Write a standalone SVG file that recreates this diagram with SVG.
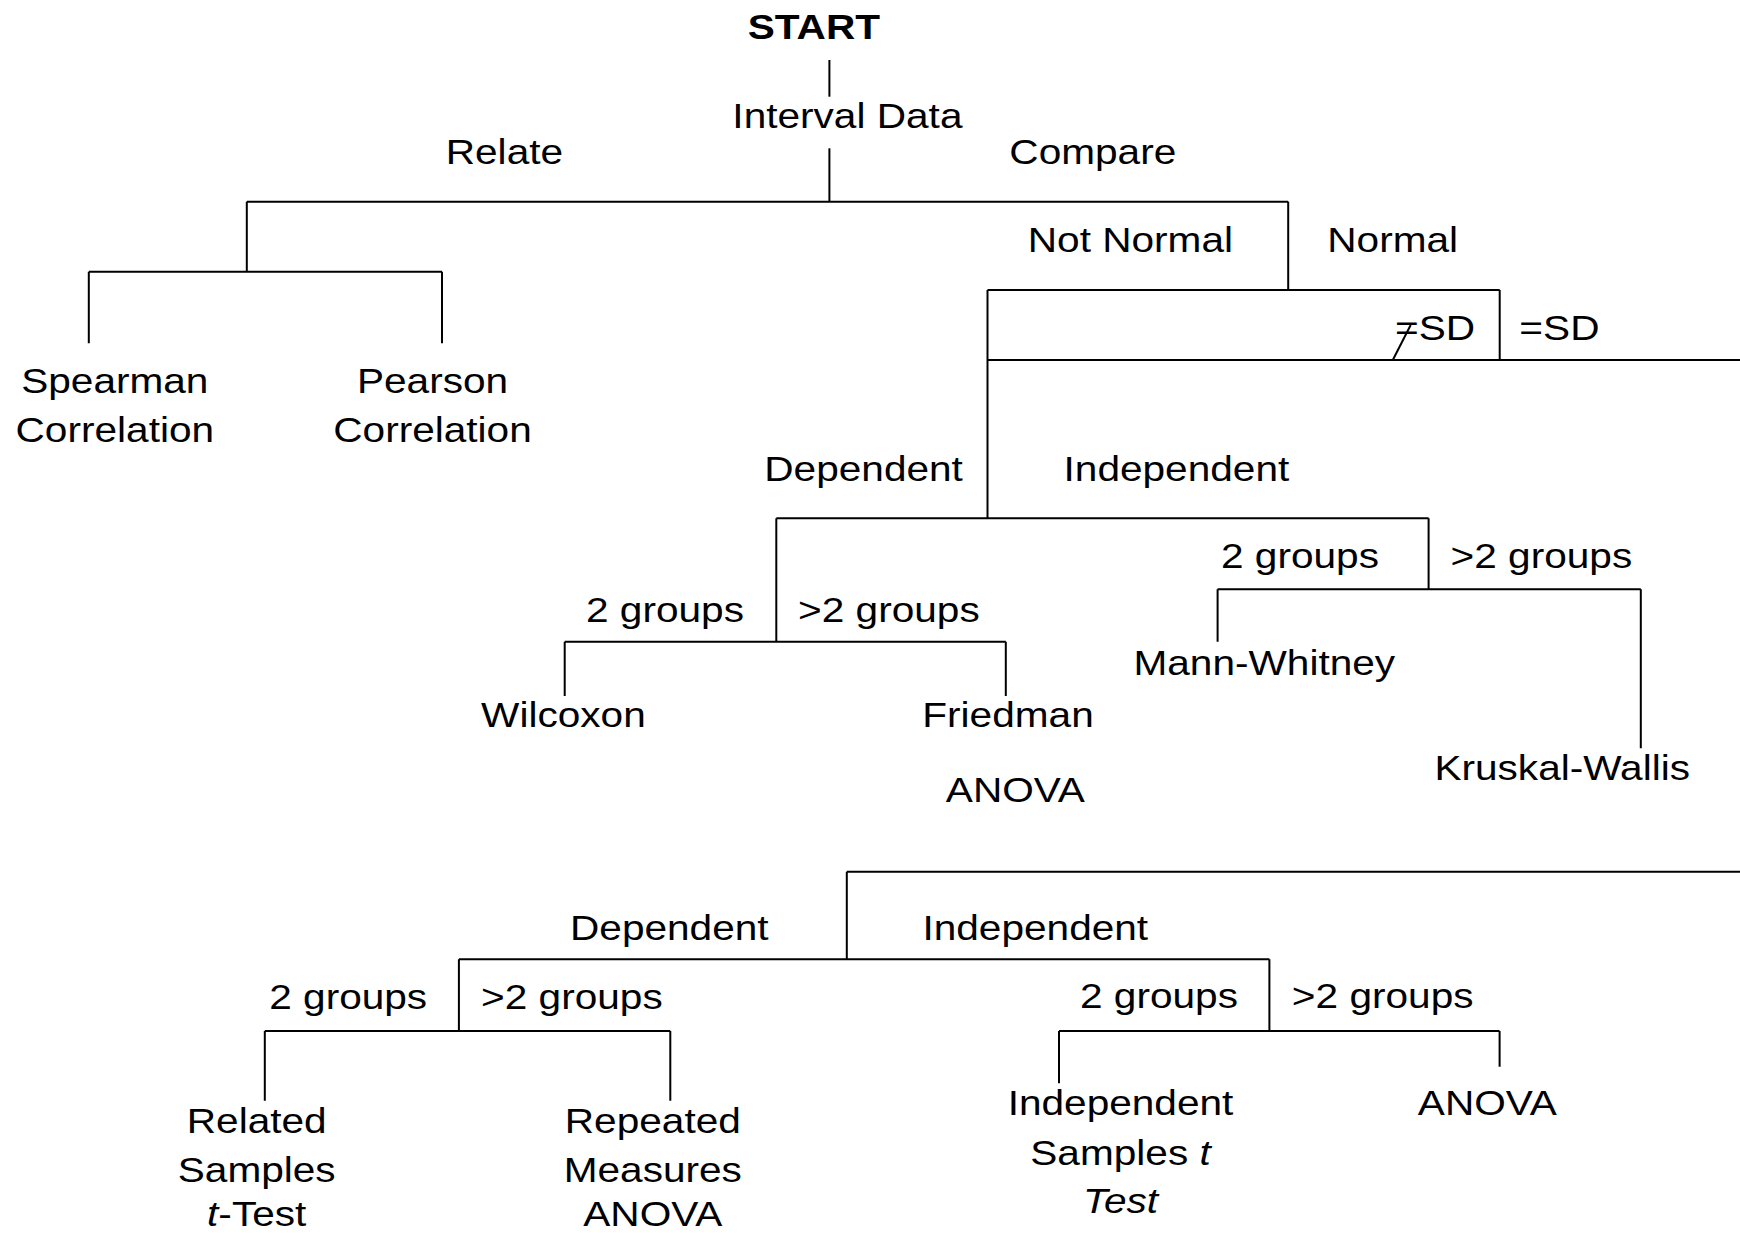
<svg xmlns="http://www.w3.org/2000/svg" width="1740" height="1233" viewBox="0 0 1740 1233">
<style>
.t{font-family:"Liberation Sans",Arial,Helvetica,sans-serif;font-size:35px;fill:#000;text-anchor:middle}
.b{font-weight:bold}
.i{font-style:italic}
.c path{stroke:#000;stroke-width:2;fill:none}
</style>
<rect width="1740" height="1233" fill="#fff"/>
<g class="c" id="connectors">
<path d="M829.4,60 V96.7"/>
<path d="M829.4,148.3 V201.7"/>
<path d="M246.8,201.7 H1288.2"/>
<path d="M246.8,201.7 V271.7"/>
<path d="M88.8,271.7 H442 M88.8,271.7 V343.3 M442,271.7 V343.3"/>
<path d="M1288.2,201.7 V290"/>
<path d="M987.5,290 H1499.7 M1499.7,290 V360"/>
<path d="M987.5,290 V518.3"/>
<path d="M987.5,360 H1740"/>
<path d="M1410.7,325 L1392.8,360"/>
<path d="M776.3,518.3 H1428.6"/>
<path d="M776.3,518.3 V641.7"/>
<path d="M564.7,641.7 H1005.8 M564.7,641.7 V696 M1005.8,641.7 V696"/>
<path d="M1428.6,518.3 V589.3 M1217.6,589.3 H1640.8 M1217.6,589.3 V641.7 M1640.8,589.3 V748.3"/>
<path d="M846.8,871.7 H1740 M846.8,871.7 V959.3"/>
<path d="M458.9,959.3 H1269.4"/>
<path d="M458.9,959.3 V1031 M264.8,1031 H670.3 M264.8,1031 V1100.7 M670.3,1031 V1100.7"/>
<path d="M1269.4,959.3 V1031 M1059,1031 H1499.6 M1059,1031 V1083.3 M1499.6,1031 V1066.7"/>
</g>
<g id="start"><text class="t b" transform="translate(813.9,39.3) scale(1.16 1)">START</text></g>
<g id="interval"><text class="t" transform="translate(847.4,128.3) scale(1.16 1)">Interval Data</text></g>
<g id="relate"><text class="t" transform="translate(504.4,164) scale(1.16 1)">Relate</text></g>
<g id="compare"><text class="t" transform="translate(1092.8,164) scale(1.16 1)">Compare</text></g>
<g id="spearman"><text class="t" transform="translate(114.8,393.3) scale(1.16 1)"><tspan x="0" y="0">Spearman</tspan><tspan x="0" y="48.4">Correlation</tspan></text></g>
<g id="pearson"><text class="t" transform="translate(432.5,393.3) scale(1.16 1)"><tspan x="0" y="0">Pearson</tspan><tspan x="0" y="48.4">Correlation</tspan></text></g>
<g id="notnormal"><text class="t" transform="translate(1130.4,252) scale(1.16 1)">Not Normal</text></g>
<g id="normal"><text class="t" transform="translate(1392.7,252) scale(1.16 1)">Normal</text></g>
<g id="neqsd"><text class="t" transform="translate(1435,340) scale(1.16 1)">=SD</text></g>
<g id="eqsd"><text class="t" transform="translate(1559.4,340) scale(1.16 1)">=SD</text></g>
<g id="dep1"><text class="t" transform="translate(863.6,481) scale(1.16 1)">Dependent</text></g>
<g id="indep1"><text class="t" transform="translate(1176.4,481) scale(1.16 1)">Independent</text></g>
<g id="dep1-2g"><text class="t" transform="translate(665,621.7) scale(1.16 1)">2 groups</text></g>
<g id="dep1-gt2g"><text class="t" transform="translate(888.9,621.7) scale(1.16 1)">&gt;2 groups</text></g>
<g id="wilcoxon"><text class="t" transform="translate(563.4,727.3) scale(1.16 1)">Wilcoxon</text></g>
<g id="friedman"><text class="t" transform="translate(1008,727.3) scale(1.16 1)">Friedman</text></g>
<g id="anova1"><text class="t" transform="translate(1015.4,801.7) scale(1.16 1)">ANOVA</text></g>
<g id="indep1-2g"><text class="t" transform="translate(1300,568.3) scale(1.16 1)">2 groups</text></g>
<g id="indep1-gt2g"><text class="t" transform="translate(1541.4,568.3) scale(1.16 1)">&gt;2 groups</text></g>
<g id="mannwhitney"><text class="t" transform="translate(1264.3,675) scale(1.16 1)">Mann-Whitney</text></g>
<g id="kruskal"><text class="t" transform="translate(1562.2,780) scale(1.16 1)">Kruskal-Wallis</text></g>
<g id="dep2"><text class="t" transform="translate(669.3,940) scale(1.16 1)">Dependent</text></g>
<g id="indep2"><text class="t" transform="translate(1035.3,940) scale(1.16 1)">Independent</text></g>
<g id="dep2-2g"><text class="t" transform="translate(348.2,1009.3) scale(1.16 1)">2 groups</text></g>
<g id="dep2-gt2g"><text class="t" transform="translate(571.9,1009.3) scale(1.16 1)">&gt;2 groups</text></g>
<g id="indep2-2g"><text class="t" transform="translate(1159,1008.3) scale(1.16 1)">2 groups</text></g>
<g id="indep2-gt2g"><text class="t" transform="translate(1382.7,1008.3) scale(1.16 1)">&gt;2 groups</text></g>
<g id="related"><text class="t" transform="translate(256.7,1133.3) scale(1.16 1)"><tspan x="0" y="0">Related</tspan><tspan x="0" y="49">Samples</tspan><tspan x="0" y="92.5"><tspan class="i">t</tspan>-Test</tspan></text></g>
<g id="repeated"><text class="t" transform="translate(652.8,1133.3) scale(1.16 1)"><tspan x="0" y="0">Repeated</tspan><tspan x="0" y="49">Measures</tspan><tspan x="0" y="92.5">ANOVA</tspan></text></g>
<g id="indepsamples"><text class="t" transform="translate(1120.5,1115) scale(1.16 1)"><tspan x="0" y="0">Independent</tspan><tspan x="0" y="50">Samples <tspan class="i">t</tspan></tspan><tspan x="0" y="97.7" class="i">Test</tspan></text></g>
<g id="anova2"><text class="t" transform="translate(1487.4,1115) scale(1.16 1)">ANOVA</text></g>
</svg>
